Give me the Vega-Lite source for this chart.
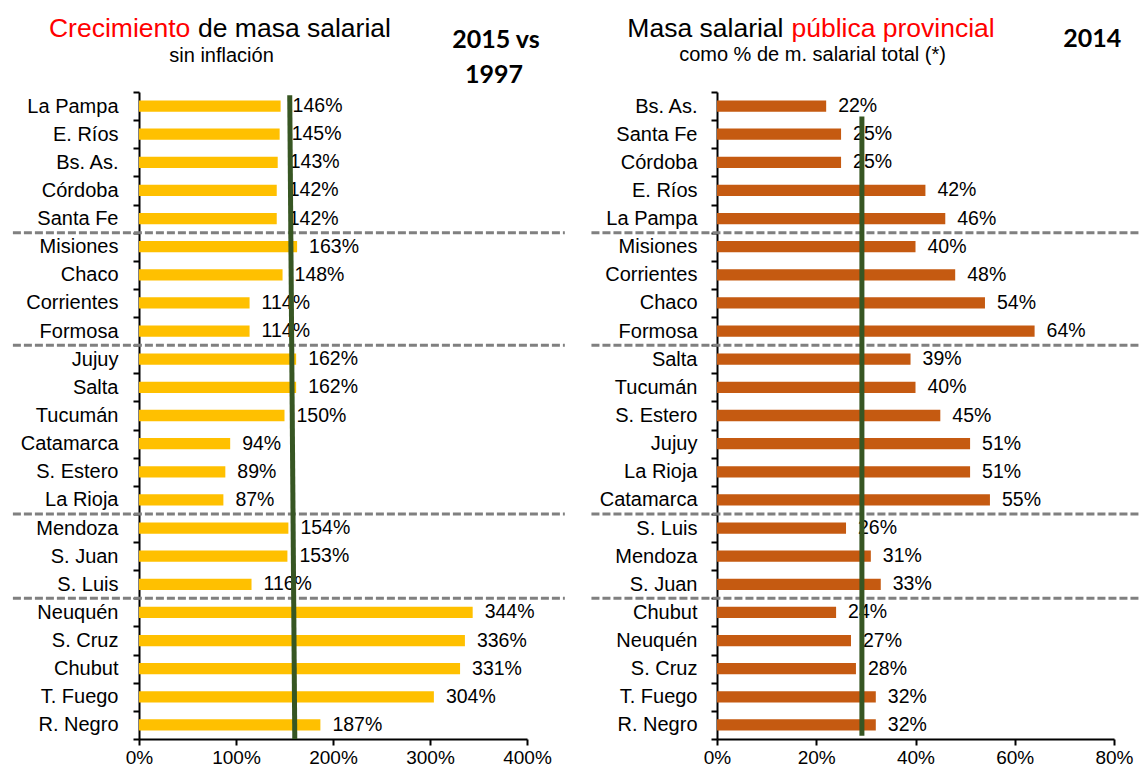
{
  "$schema": "https://vega.github.io/schema/vega-lite/v6.json",
  "padding": {"left": 11, "top": 15, "right": 0, "bottom": 0},
  "background": "white",
  "config": {
    "view": {"stroke": null},
    "font": "Arial",
    "text": {"font": "Arial"},
    "axis": {"grid": false, "domainColor": "#000000", "tickColor": "#000000", "labelColor": "#000000", "domainWidth": 2, "tickWidth": 2, "tickSize": 6, "labelFont": "Arial", "labelFlush": false}
  },
  "datasets": {
    "growth": [
      {"prov": "La Pampa", "v": 1.46}, {"prov": "E. Ríos", "v": 1.45}, {"prov": "Bs. As.", "v": 1.43}, {"prov": "Córdoba", "v": 1.42}, {"prov": "Santa Fe", "v": 1.42},
      {"prov": "Misiones", "v": 1.63}, {"prov": "Chaco", "v": 1.48}, {"prov": "Corrientes", "v": 1.14}, {"prov": "Formosa", "v": 1.14},
      {"prov": "Jujuy", "v": 1.62}, {"prov": "Salta", "v": 1.62}, {"prov": "Tucumán", "v": 1.50}, {"prov": "Catamarca", "v": 0.94}, {"prov": "S. Estero", "v": 0.89}, {"prov": "La Rioja", "v": 0.87},
      {"prov": "Mendoza", "v": 1.54}, {"prov": "S. Juan", "v": 1.53}, {"prov": "S. Luis", "v": 1.16},
      {"prov": "Neuquén", "v": 3.44}, {"prov": "S. Cruz", "v": 3.36}, {"prov": "Chubut", "v": 3.31}, {"prov": "T. Fuego", "v": 3.04}, {"prov": "R. Negro", "v": 1.87}
    ],
    "share": [
      {"prov": "Bs. As.", "v": 0.22}, {"prov": "Santa Fe", "v": 0.25}, {"prov": "Córdoba", "v": 0.25}, {"prov": "E. Ríos", "v": 0.42}, {"prov": "La Pampa", "v": 0.46},
      {"prov": "Misiones", "v": 0.40}, {"prov": "Corrientes", "v": 0.48}, {"prov": "Chaco", "v": 0.54}, {"prov": "Formosa", "v": 0.64},
      {"prov": "Salta", "v": 0.39}, {"prov": "Tucumán", "v": 0.40}, {"prov": "S. Estero", "v": 0.45}, {"prov": "Jujuy", "v": 0.51}, {"prov": "La Rioja", "v": 0.51}, {"prov": "Catamarca", "v": 0.55},
      {"prov": "S. Luis", "v": 0.26}, {"prov": "Mendoza", "v": 0.31}, {"prov": "S. Juan", "v": 0.33},
      {"prov": "Chubut", "v": 0.24}, {"prov": "Neuquén", "v": 0.27}, {"prov": "S. Cruz", "v": 0.28}, {"prov": "T. Fuego", "v": 0.32}, {"prov": "R. Negro", "v": 0.32}
    ]
  },
  "spacing": 22,
  "hconcat": [
    {
      "width": 388,
      "height": 647,
      "resolve": {"scale": {"y": "independent"}, "axis": {"y": "independent"}},
      "layer": [
        {
          "data": {"name": "growth"},
          "layer": [
            {
              "mark": {"type": "bar", "height": {"band": 0.4}, "color": "#FFC000"},
              "encoding": {
                "y": {"field": "prov", "type": "nominal", "scale": {"domain": ["La Pampa", "E. Ríos", "Bs. As.", "Córdoba", "Santa Fe", "Misiones", "Chaco", "Corrientes", "Formosa", "Jujuy", "Salta", "Tucumán", "Catamarca", "S. Estero", "La Rioja", "Mendoza", "S. Juan", "S. Luis", "Neuquén", "S. Cruz", "Chubut", "T. Fuego", "R. Negro"], "paddingInner": 0, "paddingOuter": 0}, "axis": {"title": null, "labelFontSize": 20, "labelPadding": 15, "tickBand": "extent"}},
                "x": {"field": "v", "type": "quantitative", "scale": {"domain": [0, 4], "nice": false}, "axis": {"title": null, "values": [0, 1, 2, 3, 4], "format": ".0%", "labelFontSize": 19, "labelPadding": 3, "labelFlush": false}}
              }
            },
            {
              "data": {"values": [{"prov": "Misiones"}, {"prov": "Jujuy"}, {"prov": "Mendoza"}, {"prov": "Neuquén"}]},
              "mark": {"type": "rule", "color": "#808080", "strokeWidth": 3, "strokeDash": [8, 3]},
              "encoding": {
                "y": {"field": "prov", "type": "nominal", "bandPosition": 0},
                "x": {"datum": -1.30, "type": "quantitative", "scale": {"domain": [0, 4], "nice": false}},
                "x2": {"datum": 4.39}
              }
            },
            {
              "mark": {"type": "text", "align": "left", "baseline": "middle", "dx": 12, "fontSize": 19.5, "color": "#000000"},
              "encoding": {
                "y": {"field": "prov", "type": "nominal"},
                "x": {"field": "v", "type": "quantitative", "scale": {"domain": [0, 4], "nice": false}},
                "text": {"field": "v", "format": ".0%"}
              }
            }
          ]
        },
        {
          "data": {"values": [{}]},
          "layer": [
            {
              "mark": {"type": "rule", "color": "#375623", "strokeWidth": 5},
              "encoding": {
                "x": {"datum": 1.554, "type": "quantitative", "scale": {"domain": [0, 4], "nice": false}},
                "x2": {"datum": 1.606},
                "y": {"datum": 0.995, "type": "quantitative", "scale": {"domain": [0, 1], "nice": false}, "axis": null},
                "y2": {"datum": 0}
              }
            },
            {
              "mark": {"type": "text", "align": "left", "baseline": "alphabetic", "fontSize": 26.5, "color": "#FF0000", "text": "Crecimiento"},
              "encoding": {
                "x": {"datum": -0.928, "type": "quantitative", "scale": {"domain": [0, 4], "nice": false}},
                "y": {"datum": 1.0856, "type": "quantitative", "scale": {"domain": [0, 1], "nice": false}, "axis": null}
              }
            },
            {
              "mark": {"type": "text", "align": "left", "baseline": "alphabetic", "fontSize": 26.5, "color": "#000000", "text": "de masa salarial"},
              "encoding": {
                "x": {"datum": 0.608, "type": "quantitative", "scale": {"domain": [0, 4], "nice": false}},
                "y": {"datum": 1.0856, "type": "quantitative", "scale": {"domain": [0, 1], "nice": false}, "axis": null}
              }
            },
            {
              "mark": {"type": "text", "align": "center", "baseline": "alphabetic", "fontSize": 20, "color": "#000000", "text": "sin inflación"},
              "encoding": {
                "x": {"datum": 0.851, "type": "quantitative", "scale": {"domain": [0, 4], "nice": false}},
                "y": {"datum": 1.047, "type": "quantitative", "scale": {"domain": [0, 1], "nice": false}, "axis": null}
              }
            },
            {
              "mark": {"type": "text", "align": "center", "baseline": "alphabetic", "fontSize": 25, "font": "Lato", "fontWeight": "bold", "color": "#000000", "text": "2015 vs"},
              "encoding": {
                "x": {"datum": 3.68, "type": "quantitative", "scale": {"domain": [0, 4], "nice": false}},
                "y": {"datum": 1.0686, "type": "quantitative", "scale": {"domain": [0, 1], "nice": false}, "axis": null}
              }
            },
            {
              "mark": {"type": "text", "align": "center", "baseline": "alphabetic", "fontSize": 25, "font": "Lato", "fontWeight": "bold", "color": "#000000", "text": "1997"},
              "encoding": {
                "x": {"datum": 3.66, "type": "quantitative", "scale": {"domain": [0, 4], "nice": false}},
                "y": {"datum": 1.0145, "type": "quantitative", "scale": {"domain": [0, 1], "nice": false}, "axis": null}
              }
            }
          ]
        }
      ]
    },
    {
      "width": 397,
      "height": 647,
      "resolve": {"scale": {"y": "independent"}, "axis": {"y": "independent"}},
      "layer": [
        {
          "data": {"name": "share"},
          "layer": [
            {
              "mark": {"type": "bar", "height": {"band": 0.4}, "color": "#C55A11"},
              "encoding": {
                "y": {"field": "prov", "type": "nominal", "scale": {"domain": ["Bs. As.", "Santa Fe", "Córdoba", "E. Ríos", "La Pampa", "Misiones", "Corrientes", "Chaco", "Formosa", "Salta", "Tucumán", "S. Estero", "Jujuy", "La Rioja", "Catamarca", "S. Luis", "Mendoza", "S. Juan", "Chubut", "Neuquén", "S. Cruz", "T. Fuego", "R. Negro"], "paddingInner": 0, "paddingOuter": 0}, "axis": {"title": null, "labelFontSize": 20, "labelPadding": 14, "tickBand": "extent"}},
                "x": {"field": "v", "type": "quantitative", "scale": {"domain": [0, 0.8], "nice": false}, "axis": {"title": null, "values": [0, 0.2, 0.4, 0.6, 0.8], "format": ".0%", "labelFontSize": 19, "labelPadding": 3, "labelFlush": false}}
              }
            },
            {
              "data": {"values": [{"prov": "Misiones"}, {"prov": "Salta"}, {"prov": "S. Luis"}, {"prov": "Chubut"}]},
              "mark": {"type": "rule", "color": "#808080", "strokeWidth": 3, "strokeDash": [8, 3]},
              "encoding": {
                "y": {"field": "prov", "type": "nominal", "bandPosition": 0},
                "x": {"datum": -0.253, "type": "quantitative", "scale": {"domain": [0, 0.8], "nice": false}},
                "x2": {"datum": 0.86}
              }
            },
            {
              "mark": {"type": "text", "align": "left", "baseline": "middle", "dx": 12, "fontSize": 19.5, "color": "#000000"},
              "encoding": {
                "y": {"field": "prov", "type": "nominal"},
                "x": {"field": "v", "type": "quantitative", "scale": {"domain": [0, 0.8], "nice": false}},
                "text": {"field": "v", "format": ".0%"}
              }
            }
          ]
        },
        {
          "data": {"values": [{}]},
          "layer": [
            {
              "mark": {"type": "rule", "color": "#375623", "strokeWidth": 5},
              "encoding": {
                "x": {"datum": 0.292, "type": "quantitative", "scale": {"domain": [0, 0.8], "nice": false}},
                "x2": {"datum": 0.292},
                "y": {"datum": 0.962, "type": "quantitative", "scale": {"domain": [0, 1], "nice": false}, "axis": null},
                "y2": {"datum": 0.005}
              }
            },
            {
              "mark": {"type": "text", "align": "right", "baseline": "alphabetic", "fontSize": 26.5, "color": "#000000", "text": "Masa salarial"},
              "encoding": {
                "x": {"datum": 0.134, "type": "quantitative", "scale": {"domain": [0, 0.8], "nice": false}},
                "y": {"datum": 1.0856, "type": "quantitative", "scale": {"domain": [0, 1], "nice": false}, "axis": null}
              }
            },
            {
              "mark": {"type": "text", "align": "left", "baseline": "alphabetic", "fontSize": 26.5, "color": "#FF0000", "text": "pública provincial"},
              "encoding": {
                "x": {"datum": 0.150, "type": "quantitative", "scale": {"domain": [0, 0.8], "nice": false}},
                "y": {"datum": 1.0856, "type": "quantitative", "scale": {"domain": [0, 1], "nice": false}, "axis": null}
              }
            },
            {
              "mark": {"type": "text", "align": "center", "baseline": "alphabetic", "fontSize": 20, "color": "#000000", "text": "como % de m. salarial total (*)"},
              "encoding": {
                "x": {"datum": 0.1925, "type": "quantitative", "scale": {"domain": [0, 0.8], "nice": false}},
                "y": {"datum": 1.0485, "type": "quantitative", "scale": {"domain": [0, 1], "nice": false}, "axis": null}
              }
            },
            {
              "mark": {"type": "text", "align": "center", "baseline": "alphabetic", "fontSize": 25, "font": "Lato", "fontWeight": "bold", "color": "#000000", "text": "2014"},
              "encoding": {
                "x": {"datum": 0.756, "type": "quantitative", "scale": {"domain": [0, 0.8], "nice": false}},
                "y": {"datum": 1.069, "type": "quantitative", "scale": {"domain": [0, 1], "nice": false}, "axis": null}
              }
            }
          ]
        }
      ]
    }
  ]
}
